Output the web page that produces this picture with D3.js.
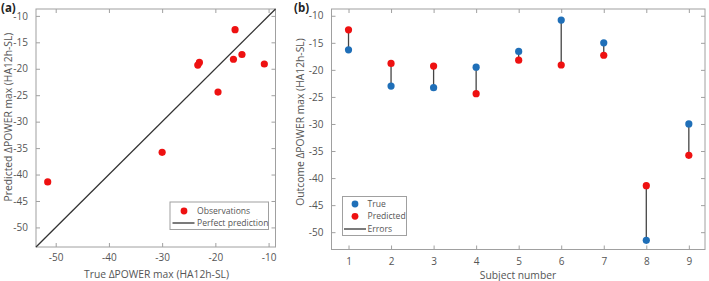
<!DOCTYPE html>
<html>
<head>
<meta charset="utf-8">
<script src="https://cdn.jsdelivr.net/npm/d3@7"></script>
<style>
  body { margin: 0; background: #fff; }
  svg text { font-family: "Open Sans", "Noto Sans", sans-serif; }
</style>
</head>
<body>
<svg width="709" height="281"></svg>
<script>
// data
const subjects = [1, 2, 3, 4, 5, 6, 7, 8, 9]
const trueVals = [-16.3, -23.0, -23.3, -19.5, -16.6, -10.8, -15.0, -51.5, -30.0]
const predVals = [-12.6, -18.8, -19.3, -24.4, -18.2, -19.1, -17.3, -41.4, -35.8]
const ticksA = [-50, -40, -30, -20, -10]
const ticksAY = [-50, -45, -40, -35, -30, -25, -20, -15, -10]
const ticksBX = [1, 2, 3, 4, 5, 6, 7, 8, 9]
const ticksBY = [-50, -45, -40, -35, -30, -25, -20, -15, -10]
const domainA = [-53.7, -8.7]

const svg = d3.select("svg")
const red = "#ee1111"
const blue = "#1f6fb8"
const axisCol = "#a0a0a0"
const textCol = "#555"

// box with inner ticks on all four sides (matlab style)
function drawFrame(g, x, y, xt, yt, padX) {
    const [x0, x1] = x.range()
    const [y0, y1] = y.range()
    const w = x1 - x0, h = y0 - y1
    const fmt = d => String(d)
    const bottom = g.append("g").attr("transform", `translate(0,${y0})`)
        .call(d3.axisBottom(x).tickValues(xt).tickSizeInner(-4).tickSizeOuter(0).tickPadding(padX).tickFormat(fmt))
    const top = g.append("g").attr("transform", `translate(0,${y1})`)
        .call(d3.axisTop(x).tickValues(xt).tickSizeInner(-4).tickSizeOuter(0).tickFormat(""))
    const left = g.append("g").attr("transform", `translate(${x0},0)`)
        .call(d3.axisLeft(y).tickValues(yt).tickSizeInner(-4).tickSizeOuter(0).tickPadding(8).tickFormat(fmt))
    const right = g.append("g").attr("transform", `translate(${x1},0)`)
        .call(d3.axisRight(y).tickValues(yt).tickSizeInner(-4).tickSizeOuter(0).tickFormat(""))
    for (const a of [bottom, top, left, right]) {
        a.select(".domain").remove()
        a.selectAll("line").attr("stroke", axisCol)
        a.selectAll("text").attr("fill", textCol).style("font-size", "10px")
    }
    g.append("rect").attr("x", x0).attr("y", y1).attr("width", w).attr("height", h)
        .attr("fill", "none").attr("stroke", axisCol).attr("stroke-width", 1)
}

// ---------- panel (a) ----------
const xA = d3.scaleLinear().domain(domainA).range([36, 275.5])
const yA = d3.scaleLinear().domain(domainA).range([247, 9])
const gA = svg.append("g")
drawFrame(gA, xA, yA, ticksA, ticksAY, 7)

gA.append("path")
    .attr("d", d3.line().x(d => xA(d)).y(d => yA(d))(domainA))
    .attr("stroke", "#333").attr("stroke-width", 1.3).attr("fill", "none")

gA.selectAll("circle.obs").data(subjects.map((s, i) => ({t: trueVals[i], p: predVals[i]})))
    .join("circle").attr("class", "obs")
    .attr("cx", d => xA(d.t)).attr("cy", d => yA(d.p)).attr("r", 3.6).attr("fill", red)

gA.append("text").attr("x", 156.5).attr("y", 278).attr("text-anchor", "middle")
    .attr("fill", textCol).style("font-size", "10.3px").text("True ΔPOWER max (HA12h-SL)")
gA.append("text").attr("transform", "translate(11.5,117) rotate(-90)").attr("text-anchor", "middle")
    .attr("fill", textCol).style("font-size", "10.3px").text("Predicted ΔPOWER max (HA12h-SL)")
gA.append("text").attr("x", 1).attr("y", 12).style("font-size", "11.5px").style("font-weight", "bold")
    .attr("fill", "#222").text("(a)")

// legend a
const legA = gA.append("g")
legA.append("rect").attr("x", 170).attr("y", 202).attr("width", 98.5).attr("height", 27.5)
    .attr("fill", "#fff").attr("stroke", axisCol)
legA.append("circle").attr("cx", 184).attr("cy", 211).attr("r", 3.4).attr("fill", red)
legA.append("line").attr("x1", 172.5).attr("x2", 194.5).attr("y1", 223).attr("y2", 223)
    .attr("stroke", "#333").attr("stroke-width", 1.3)
legA.append("text").attr("x", 197).attr("y", 214).attr("fill", textCol).style("font-size", "8.6px").text("Observations")
legA.append("text").attr("x", 197).attr("y", 226).attr("fill", textCol).style("font-size", "8.6px").text("Perfect prediction")

// ---------- panel (b) ----------
const xB = d3.scaleLinear().domain([0.6, 9.38]).range([331.5, 705])
const yB = d3.scaleLinear().domain([-53.2, -8.75]).range([249.5, 9])
const gB = svg.append("g")
drawFrame(gB, xB, yB, ticksBX, ticksBY, 8)

const rows = subjects.map((s, i) => ({s, t: trueVals[i], p: predVals[i]}))
gB.selectAll("line.err").data(rows).join("line").attr("class", "err")
    .attr("x1", d => xB(d.s)).attr("x2", d => xB(d.s))
    .attr("y1", d => yB(d.t)).attr("y2", d => yB(d.p))
    .attr("stroke", "#444").attr("stroke-width", 1.3)
gB.selectAll("circle.tr").data(rows).join("circle").attr("class", "tr")
    .attr("cx", d => xB(d.s)).attr("cy", d => yB(d.t)).attr("r", 3.6).attr("fill", blue)
gB.selectAll("circle.pr").data(rows).join("circle").attr("class", "pr")
    .attr("cx", d => xB(d.s)).attr("cy", d => yB(d.p)).attr("r", 3.6).attr("fill", red)

gB.append("text").attr("x", 518).attr("y", 278.5).attr("text-anchor", "middle")
    .attr("fill", textCol).style("font-size", "10.3px").text("Subject number")
gB.append("text").attr("transform", "translate(304,122) rotate(-90)").attr("text-anchor", "middle")
    .attr("fill", textCol).style("font-size", "10.3px").text("Outcome ΔPOWER max (HA12h-SL)")
gB.append("text").attr("x", 294).attr("y", 12).style("font-size", "11.5px").style("font-weight", "bold")
    .attr("fill", "#222").text("(b)")

// legend b
const legB = gB.append("g")
legB.append("rect").attr("x", 342.5).attr("y", 196.5).attr("width", 64).attr("height", 39)
    .attr("fill", "#fff").attr("stroke", axisCol)
legB.append("circle").attr("cx", 355).attr("cy", 204).attr("r", 3.4).attr("fill", blue)
legB.append("circle").attr("cx", 355).attr("cy", 216.3).attr("r", 3.4).attr("fill", red)
legB.append("line").attr("x1", 344).attr("x2", 366).attr("y1", 229).attr("y2", 229)
    .attr("stroke", "#333").attr("stroke-width", 1.3)
legB.append("text").attr("x", 367.5).attr("y", 207).attr("fill", textCol).style("font-size", "8.6px").text("True")
legB.append("text").attr("x", 367.5).attr("y", 219.3).attr("fill", textCol).style("font-size", "8.6px").text("Predicted")
legB.append("text").attr("x", 367.5).attr("y", 232).attr("fill", textCol).style("font-size", "8.6px").text("Errors")
</script>
</body>
</html>
